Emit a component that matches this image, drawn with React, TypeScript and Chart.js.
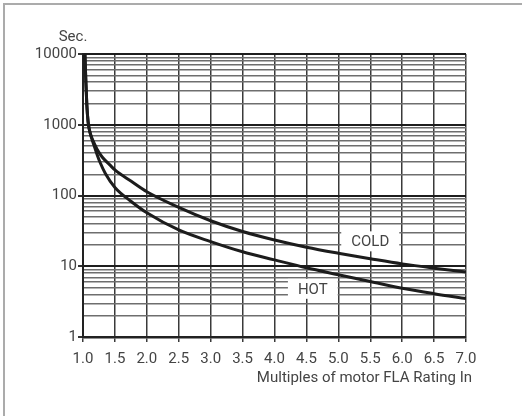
import { useEffect, useRef } from 'react';
import { Chart, registerables } from 'chart.js';

Chart.register(...registerables);

const FONT_FAMILY = 'Roboto, "Open Sans", sans-serif';
const TEXT_COLOR = '#444444';

// Curve data (multiples of FLA vs. seconds)
const coldX = [1.03, 1.045, 1.06, 1.08, 1.1, 1.13, 1.17, 1.22, 1.3, 1.42, 1.5, 1.75, 2.0, 2.5, 3.0, 3.5, 4.0, 4.5, 5.0, 5.5, 6.0, 6.5, 7.0];
const coldY = [10000, 4000, 1900, 1100, 850, 680, 560, 450, 350, 271, 230, 160, 113, 68, 44, 31, 23.5, 18.6, 15.3, 12.8, 10.8, 9.4, 8.3];
const hotX = [1.03, 1.045, 1.06, 1.08, 1.1, 1.13, 1.17, 1.22, 1.27, 1.35, 1.5, 1.75, 2.0, 2.5, 3.0, 3.5, 4.0, 4.5, 5.0, 5.5, 6.0, 6.5, 7.0];
const hotY = [10000, 4000, 1900, 1100, 850, 670, 520, 380, 290, 205, 130, 83, 57, 32.6, 22.3, 16, 12.3, 9.5, 7.6, 6.1, 4.9, 4.1, 3.5];

// Axis ticks
const xTickValues = [1.0, 1.5, 2.0, 2.5, 3.0, 3.5, 4.0, 4.5, 5.0, 5.5, 6.0, 6.5, 7.0];
const yDecades = [1, 10, 100, 1000, 10000];
const yMinorMultipliers = [2, 3, 4, 5, 6, 7, 8, 9];

// Curve labels (position in data coordinates)
const curveLabels = ['COLD', 'HOT'];
const curveLabelX = [5.5, 4.6];
const curveLabelY = [22.5, 4.8];

const xTitle = 'Multiples of motor FLA Rating In';
const yTitle = 'Sec.';

const yGridValues: number[] = [];
yDecades.forEach((d, i) => {
  yGridValues.push(d);
  if (i < yDecades.length - 1) yMinorMultipliers.forEach((m) => yGridValues.push(m * d));
});

const isDecade = (v: number) => yDecades.includes(v);

const decorPlugin = {
  id: 'decor',
  beforeDraw(chart: any) {
    const ctx = chart.ctx;
    ctx.save();
    ctx.fillStyle = '#ababab';
    ctx.fillRect(3, 3, chart.width - 3, 2);
    ctx.fillRect(3, 3, 2, chart.height - 3);
    ctx.restore();
  },
  beforeDatasetsDraw(chart: any) {
    const ctx = chart.ctx;
    const xs = chart.scales.x;
    const ys = chart.scales.y;
    ctx.save();
    ctx.font = `15px ${FONT_FAMILY}`;
    ctx.textAlign = 'center';
    ctx.textBaseline = 'middle';
    curveLabels.forEach((t, i) => {
      const cx = xs.getPixelForValue(curveLabelX[i]);
      const cy = ys.getPixelForValue(curveLabelY[i]);
      const w = ctx.measureText(t).width + 20;
      const h = 20;
      ctx.fillStyle = '#ffffff';
      ctx.fillRect(cx - w / 2, cy - h / 2, w, h);
      ctx.fillStyle = TEXT_COLOR;
      ctx.fillText(t, cx, cy + 1);
    });
    ctx.restore();
  },
  afterDraw(chart: any) {
    const ctx = chart.ctx;
    const area = chart.chartArea;
    ctx.save();
    ctx.font = `15px ${FONT_FAMILY}`;
    ctx.fillStyle = TEXT_COLOR;
    ctx.textBaseline = 'middle';
    ctx.textAlign = 'center';
    ctx.fillText(yTitle, area.left - 10, area.top - 17);
    ctx.textAlign = 'right';
    ctx.fillText(xTitle, area.right + 6, area.bottom + 41);
    ctx.restore();
  },
};

export default function App() {
  const canvasRef = useRef<HTMLCanvasElement | null>(null);

  useEffect(() => {
    if (!canvasRef.current) return;
    const chart = new Chart(canvasRef.current, {
      type: 'line',
      data: {
        datasets: [
          {
            label: 'COLD',
            data: coldX.map((x, i) => ({ x, y: coldY[i] })),
            borderColor: '#1c1c1c',
            borderWidth: 3,
            pointRadius: 0,
            fill: false,
            cubicInterpolationMode: 'monotone',
          },
          {
            label: 'HOT',
            data: hotX.map((x, i) => ({ x, y: hotY[i] })),
            borderColor: '#1c1c1c',
            borderWidth: 3,
            pointRadius: 0,
            fill: false,
            cubicInterpolationMode: 'monotone',
          },
        ],
      },
      options: {
        animation: false,
        responsive: true,
        maintainAspectRatio: false,
        layout: { padding: { top: 54, right: 56, left: 0, bottom: 0 } },
        plugins: {
          legend: { display: false },
          tooltip: { enabled: false },
        },
        scales: {
          x: {
            type: 'linear',
            min: 1,
            max: 7,
            afterFit: (scale: any) => {
              scale.height = 79;
            },
            afterBuildTicks: (scale: any) => {
              scale.ticks = xTickValues.map((v) => ({ value: v }));
            },
            ticks: {
              autoSkip: false,
              maxRotation: 0,
              padding: 8,
              color: TEXT_COLOR,
              font: { family: FONT_FAMILY, size: 15 },
              callback: (v: any) => Number(v).toFixed(1),
            },
            grid: {
              color: '#3a3a3a',
              lineWidth: 1.5,
              tickLength: 5,
              tickColor: '#3a3a3a',
            },
            border: { display: true, color: '#222222', width: 2.5 },
          },
          y: {
            type: 'logarithmic',
            min: 1,
            max: 10000,
            afterFit: (scale: any) => {
              scale.width = 83;
            },
            afterBuildTicks: (scale: any) => {
              scale.ticks = yGridValues.map((v) => ({ value: v, major: isDecade(v) }));
            },
            ticks: {
              autoSkip: false,
              padding: 1,
              color: TEXT_COLOR,
              font: { family: FONT_FAMILY, size: 15 },
              callback: (v: any) => (isDecade(Number(v)) ? String(v) : ''),
            },
            grid: {
              color: (c: any) => (c.tick && isDecade(c.tick.value) ? '#1e1e1e' : '#6e6e6e'),
              lineWidth: (c: any) => (c.tick && isDecade(c.tick.value) ? 2 : 1.4),
              tickLength: 5,
              tickColor: (c: any) => (c.tick && isDecade(c.tick.value) ? '#333333' : 'rgba(0,0,0,0)'),
            },
            border: { display: true, color: '#222222', width: 2 },
          },
        },
      },
      plugins: [decorPlugin],
    } as any);
    return () => chart.destroy();
  }, []);

  return (
    <div style={{ position: 'fixed', left: 0, top: 0, width: 522, height: 416, background: '#ffffff' }}>
      <canvas ref={canvasRef} />
    </div>
  );
}
